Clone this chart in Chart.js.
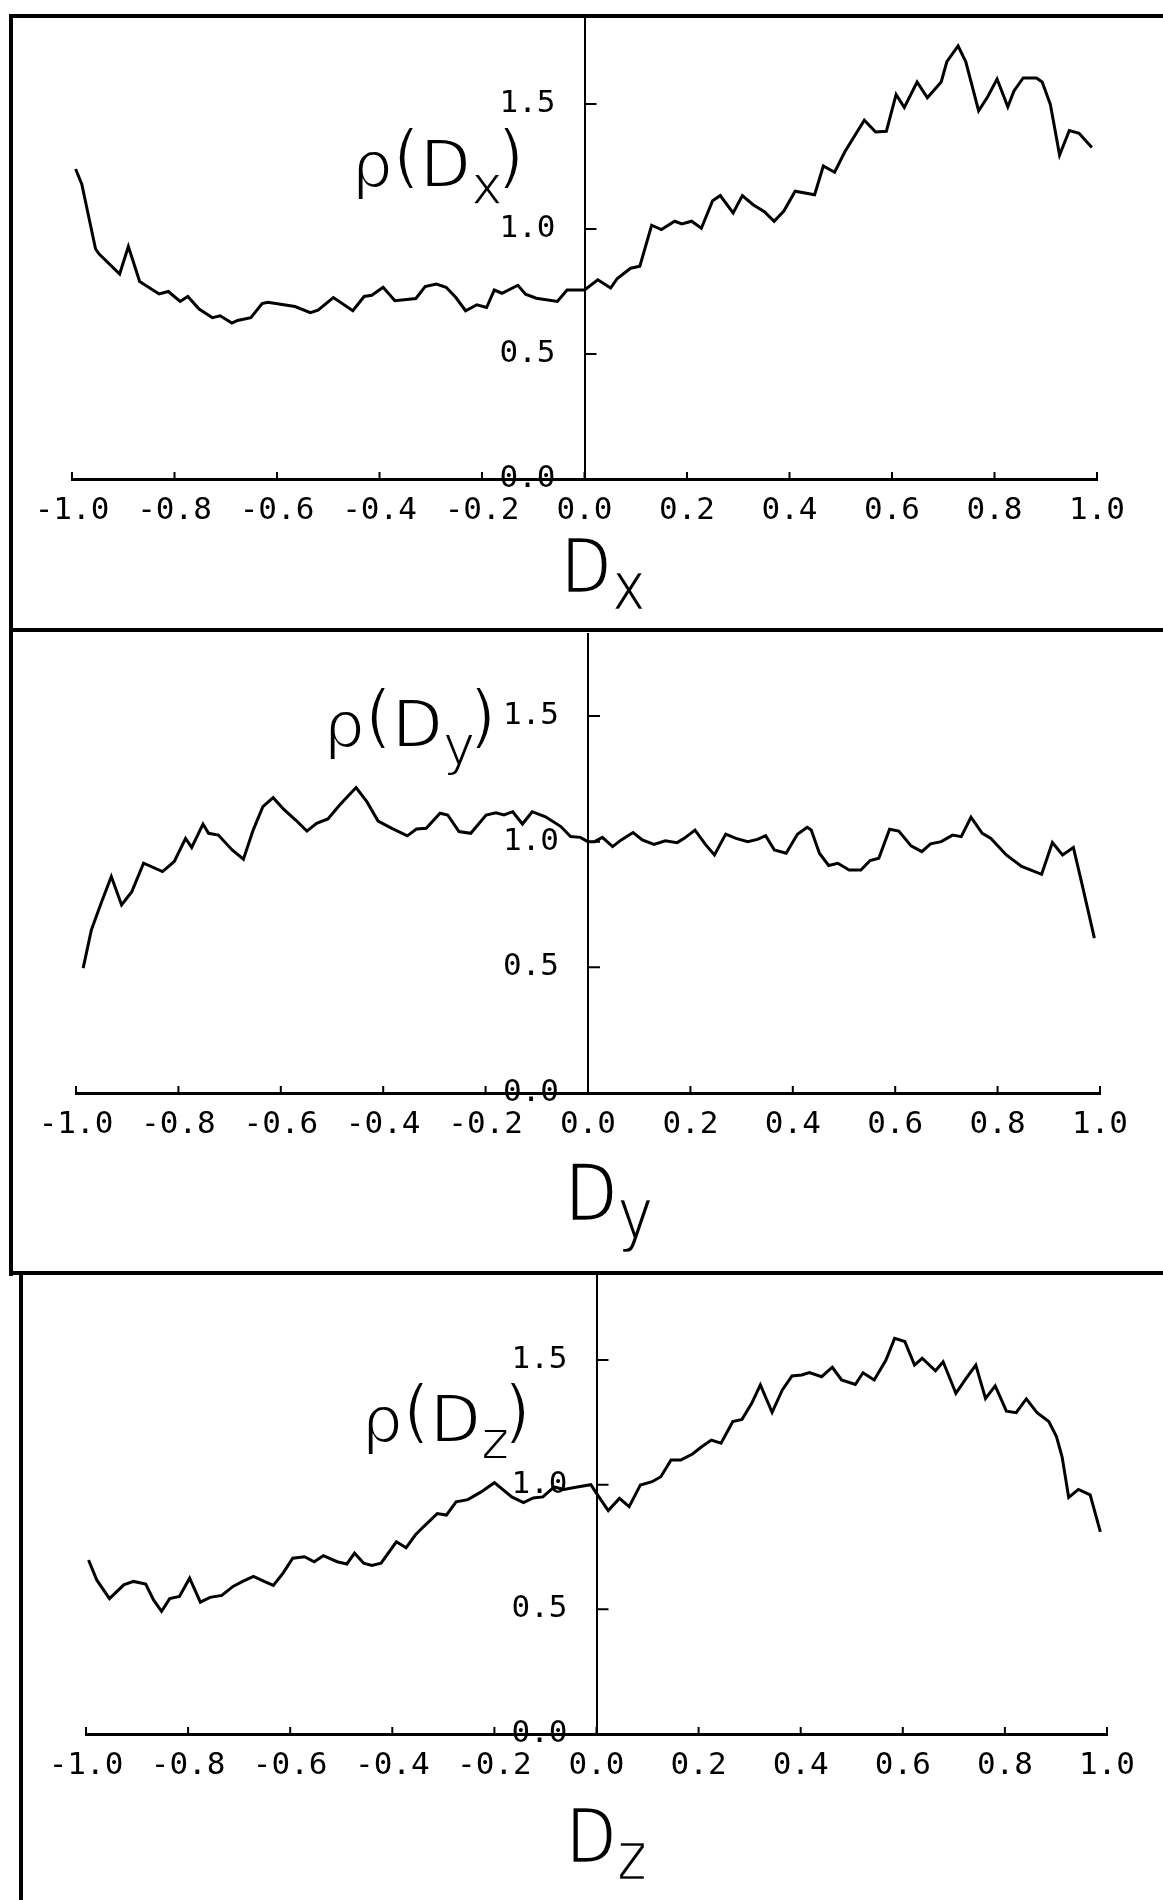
<!DOCTYPE html>
<html lang="es">
<head>
<meta charset="utf-8">
<title>Distribuciones de Dx, Dy, Dz</title>
<script src="https://cdn.jsdelivr.net/npm/chart.js@4.4.1/dist/chart.umd.min.js"></script>
<style>
    html, body { margin: 0; padding: 0; background: #fff; }
    #hoja { position: relative; width: 1163px; height: 1900px; overflow: hidden; background: #fff; }
    canvas { position: absolute; left: 0; }
    .linea { position: absolute; background: #000; }
    .texto { position: absolute; font-family: "DejaVu Sans", sans-serif; line-height: 1; color: #000;
             white-space: nowrap; transform-origin: 0 0; -webkit-text-stroke: 2px #fff; }
    .rho { font-size: 66px; }
    .rho .letra { font-size: 64px; }
    .rho .par { font-size: 70px; position: relative; top: -7px; }
    .rho .cierre { margin-left: -6px; }
    .rho .sub { font-size: 55px; position: relative; top: 17px; }
    .titulo { font-size: 77px; transform: scaleX(0.85); -webkit-text-stroke: 2.5px #fff; }
    .titulo .sub { font-size: 0.9em; position: relative; top: 17px; }
</style>
</head>
<body>
<div id="hoja">
    <canvas id="panelX" width="1163" height="632" style="top:0px"></canvas>
    <canvas id="panelY" width="1163" height="640" style="top:632px"></canvas>
    <canvas id="panelZ" width="1163" height="628" style="top:1272px"></canvas>

    <!-- marco de la figura -->
    <div class="linea" style="left:9px; top:14px; width:1154px; height:4px"></div>
    <div class="linea" style="left:9px; top:14px; width:4px; height:1262px"></div>
    <div class="linea" style="left:9px; top:628px; width:1154px; height:4px"></div>
    <div class="linea" style="left:9px; top:1271px; width:1154px; height:4px"></div>
    <div class="linea" style="left:19px; top:1271px; width:4px; height:629px"></div>

    <!-- etiquetas -->
    <div class="texto rho" style="left:352px; top:128px"><span class="letra">ρ</span><span class="par">(</span>D<span class="sub">x</span><span class="par cierre">)</span></div>
    <div class="texto titulo" style="left:561px; top:528px">D<span class="sub">x</span></div>
    <div class="texto rho" style="left:324px; top:688px"><span class="letra">ρ</span><span class="par">(</span>D<span class="sub">y</span><span class="par cierre">)</span></div>
    <div class="texto titulo" style="left:565px; top:1154px; font-size:80px">D<span class="sub">y</span></div>
    <div class="texto rho" style="left:362px; top:1383px"><span class="letra">ρ</span><span class="par">(</span>D<span class="sub">z</span><span class="par cierre">)</span></div>
    <div class="texto titulo" style="left:566px; top:1798px">D<span class="sub">z</span></div>
</div>

<script>
// valores: eje horizontal D, eje vertical rho(D)
const xTicks = [-1.0, -0.8, -0.6, -0.4, -0.2, 0.0, 0.2, 0.4, 0.6, 0.8, 1.0];
const yTicks = [0.0, 0.5, 1.0, 1.5];

const dxX = [-0.993,-0.981,-0.954,-0.947,-0.907,-0.890,-0.868,-0.830,-0.812,-0.789,
    -0.774,-0.752,-0.726,-0.711,-0.688,-0.677,-0.651,-0.629,-0.618,-0.565,
    -0.535,-0.520,-0.490,-0.452,-0.430,-0.415,-0.393,-0.370,-0.329,-0.311,
    -0.289,-0.270,-0.251,-0.232,-0.210,-0.191,-0.176,-0.161,-0.130,-0.115,
    -0.094,-0.053,-0.034,0.000,0.026,0.051,0.064,0.090,0.108,0.131,
    0.150,0.176,0.190,0.209,0.228,0.250,0.265,0.290,0.308,0.329,
    0.351,0.370,0.389,0.411,0.449,0.466,0.488,0.508,0.546,0.568,
    0.589,0.608,0.624,0.649,0.669,0.696,0.707,0.729,0.744,0.769,
    0.787,0.805,0.826,0.838,0.856,0.882,0.893,0.909,0.927,0.946,
    0.965,0.990];
const dxY = [1.24,1.18,0.92,0.90,0.82,0.93,0.79,0.74,0.75,0.71,
    0.73,0.68,0.645,0.653,0.624,0.634,0.645,0.702,0.707,0.69,
    0.665,0.675,0.726,0.673,0.73,0.735,0.767,0.713,0.722,0.77,
    0.78,0.767,0.726,0.673,0.697,0.686,0.756,0.743,0.775,0.739,
    0.723,0.71,0.756,0.756,0.797,0.764,0.802,0.843,0.851,1.015,
    0.998,1.031,1.02,1.031,1.003,1.113,1.134,1.064,1.134,1.097,
    1.069,1.031,1.072,1.151,1.137,1.252,1.227,1.309,1.435,1.388,
    1.391,1.538,1.486,1.588,1.525,1.588,1.669,1.732,1.669,1.473,
    1.53,1.6,1.489,1.552,1.604,1.604,1.588,1.498,1.296,1.394,
    1.383,1.326];

const dyX = [-0.986,-0.970,-0.951,-0.931,-0.911,-0.891,-0.868,-0.831,-0.808,-0.786,
    -0.774,-0.752,-0.741,-0.722,-0.695,-0.673,-0.654,-0.635,-0.615,-0.594,
    -0.571,-0.549,-0.530,-0.508,-0.485,-0.453,-0.432,-0.410,-0.383,-0.353,
    -0.335,-0.316,-0.289,-0.274,-0.252,-0.229,-0.199,-0.180,-0.164,-0.147,
    -0.128,-0.109,-0.083,-0.053,-0.034,-0.015,0.000,0.013,0.028,0.048,
    0.065,0.088,0.106,0.129,0.151,0.174,0.188,0.209,0.230,0.247,
    0.269,0.289,0.312,0.331,0.347,0.364,0.387,0.409,0.428,0.436,
    0.452,0.470,0.488,0.510,0.533,0.551,0.568,0.589,0.607,0.631,
    0.652,0.669,0.690,0.712,0.729,0.748,0.770,0.787,0.817,0.847,
    0.886,0.907,0.927,0.948,0.966,0.989];
const dyY = [0.497,0.649,0.755,0.861,0.748,0.801,0.914,0.881,0.921,1.013,
    0.977,1.07,1.033,1.026,0.967,0.93,1.046,1.139,1.175,1.128,
    1.086,1.042,1.073,1.09,1.146,1.215,1.159,1.082,1.053,1.023,
    1.05,1.053,1.113,1.106,1.04,1.033,1.106,1.115,1.106,1.119,
    1.07,1.119,1.099,1.06,1.02,1.017,1.0,1.0,1.017,0.98,
    1.007,1.036,1.007,0.989,1.003,0.996,1.013,1.046,0.987,0.947,
    1.03,1.013,1.0,1.009,1.024,0.967,0.954,1.029,1.057,1.046,
    0.954,0.905,0.914,0.887,0.887,0.925,0.934,1.049,1.042,0.983,
    0.96,0.991,1.0,1.026,1.02,1.097,1.033,1.013,0.947,0.901,
    0.87,0.996,0.947,0.977,0.821,0.616];

const dzX = [-0.995,-0.979,-0.954,-0.926,-0.907,-0.883,-0.868,-0.852,-0.836,-0.817,
    -0.797,-0.776,-0.757,-0.734,-0.712,-0.693,-0.672,-0.651,-0.633,-0.614,
    -0.595,-0.572,-0.553,-0.535,-0.508,-0.489,-0.474,-0.456,-0.440,-0.422,
    -0.392,-0.373,-0.355,-0.339,-0.312,-0.294,-0.275,-0.252,-0.226,-0.200,
    -0.166,-0.143,-0.124,-0.105,-0.083,-0.064,-0.038,-0.011,0.000,0.023,
    0.045,0.064,0.086,0.109,0.126,0.146,0.165,0.188,0.206,0.225,
    0.244,0.267,0.285,0.304,0.321,0.344,0.364,0.383,0.402,0.417,
    0.441,0.462,0.480,0.507,0.522,0.544,0.567,0.584,0.604,0.623,
    0.638,0.664,0.679,0.704,0.724,0.743,0.762,0.781,0.803,0.822,
    0.842,0.863,0.886,0.901,0.912,0.925,0.944,0.967,0.987];
const dzY = [0.698,0.618,0.543,0.598,0.612,0.601,0.539,0.492,0.543,0.552,
    0.625,0.529,0.548,0.556,0.592,0.612,0.632,0.612,0.596,0.645,
    0.705,0.711,0.691,0.715,0.691,0.682,0.725,0.685,0.676,0.685,
    0.771,0.747,0.798,0.831,0.884,0.878,0.931,0.94,0.971,1.008,
    0.951,0.928,0.947,0.951,0.991,0.981,0.991,1.0,0.965,0.896,
    0.945,0.912,0.999,1.012,1.032,1.099,1.099,1.123,1.152,1.179,
    1.166,1.253,1.262,1.326,1.4,1.29,1.38,1.436,1.44,1.45,
    1.433,1.471,1.42,1.402,1.449,1.42,1.5,1.587,1.574,1.48,
    1.507,1.457,1.493,1.366,1.426,1.48,1.346,1.396,1.295,1.289,
    1.344,1.289,1.253,1.193,1.112,0.949,0.981,0.959,0.811];

const fuenteTicks = "31px 'DejaVu Sans Mono', monospace";

/*
    Funcion: dibujar las marcas de los ejes (en x hacia arriba, en y hacia la derecha)
    y los numeros del eje y, que van a la izquierda del eje central
*/
const marcasEjes = {
    id: 'marcasEjes',
    afterDraw(chart) {
        let ctx = chart.ctx;
        let ejeX = chart.scales.x;
        let ejeY = chart.scales.y;
        let base = ejeY.getPixelForValue(0);
        let origen = ejeX.getPixelForValue(0);
        ctx.save();
        ctx.strokeStyle = '#000';
        ctx.lineWidth = 2;
        ctx.beginPath();
        xTicks.forEach(v => {
            let px = ejeX.getPixelForValue(v);
            ctx.moveTo(px, base);
            ctx.lineTo(px, base - 7);
        });
        yTicks.slice(1).forEach(v => {
            let py = ejeY.getPixelForValue(v);
            ctx.moveTo(origen, py);
            ctx.lineTo(origen + 12, py);
        });
        ctx.stroke();
        ctx.fillStyle = '#000';
        ctx.font = fuenteTicks;
        ctx.textAlign = 'right';
        ctx.textBaseline = 'middle';
        ejeY.ticks.forEach(t => {
            ctx.fillText(t.value.toFixed(1), origen - 29, ejeY.getPixelForValue(t.value));
        });
        ctx.restore();
    }
};

/*
    Funcion: crear un panel (un grafico por canvas) con su curva rho(D)
*/
function crearPanel(idCanvas, xs, ys, relleno, yMax) {
    let puntos = xs.map((x, i) => ({x: x, y: ys[i]}));
    return new Chart(document.getElementById(idCanvas), {
        type: 'line',
        data: {
            datasets: [{
                data: puntos,
                borderColor: '#000',
                borderWidth: 3,
                pointRadius: 0,
                tension: 0,
                fill: false
            }]
        },
        options: {
            responsive: false,
            animation: false,
            devicePixelRatio: 1,
            layout: {padding: relleno},
            plugins: {legend: {display: false}, tooltip: {enabled: false}},
            scales: {
                x: {
                    type: 'linear',
                    position: 'bottom',
                    min: -1,
                    max: 1,
                    grid: {display: false, drawTicks: false},
                    border: {display: true, color: '#000', width: 3},
                    ticks: {
                        color: '#000',
                        font: {family: "'DejaVu Sans Mono', monospace", size: 31},
                        padding: 13,
                        autoSkip: false,
                        maxRotation: 0,
                        callback: v => Number(v).toFixed(1)
                    },
                    afterBuildTicks: eje => { eje.ticks = xTicks.map(v => ({value: v})); },
                    afterFit: eje => { eje.height = 60; }
                },
                y: {
                    type: 'linear',
                    position: {x: 0},
                    min: 0,
                    max: yMax,
                    grid: {display: false, drawTicks: false},
                    border: {display: true, color: '#000', width: 2},
                    ticks: {display: false},
                    afterBuildTicks: eje => { eje.ticks = yTicks.map(v => ({value: v})); },
                    afterFit: eje => { eje.width = 0; eje.paddingTop = 0; eje.paddingBottom = 0; }
                }
            }
        },
        plugins: [marcasEjes]
    });
}

crearPanel('panelX', dxX, dxY, {left: 72, right: 66, top: 16, bottom: 93}, 1.852);
crearPanel('panelY', dyX, dyY, {left: 76, right: 63, top: 2, bottom: 119}, 1.826);
crearPanel('panelZ', dzX, dzY, {left: 86, right: 56, top: 4, bottom: 106}, 1.837);
</script>
</body>
</html>
